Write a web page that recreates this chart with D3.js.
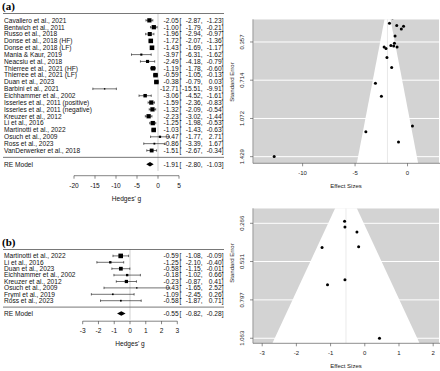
<!DOCTYPE html>
<html>
<head>
<meta charset="utf-8">
<script src="https://cdn.jsdelivr.net/npm/d3@7"></script>
<style>
  body { margin: 0; background: #fff; }
  svg { display: block; }
</style>
</head>
<body>
<script>
// ---- data: panel (a) ----
const studiesA = [
  "Cavallero et al., 2021", "Bentwich et al., 2011", "Russo et al., 2018",
  "Donse et al., 2018 (HF)", "Donse et al., 2018 (LF)", "Mania & Kaur, 2019",
  "Neacsiu et al., 2018", "Thierree et al., 2021 (HF)", "Thierree et al., 2021 (LF)",
  "Duan et al., 2023", "Barbini et al., 2021", "Eichhammer et al., 2002",
  "Isserles et al., 2011 (positive)", "Isserles et al., 2011 (negative)",
  "Kreuzer et al., 2012", "Li et al., 2016", "Martinotti et al., 2022",
  "Osuch et al., 2009", "Ross et al., 2023", "VanDerwerker et al., 2018"
];
const estA   = [-2.05, -1.00, -1.96, -1.72, -1.43, -3.97, -2.49, -1.19, -0.59, -0.38, -12.71, -3.06, -1.59, -1.32, -2.23, -1.25, -1.03, 0.47, -0.86, -1.51];
const lowerA = [-2.87, -1.79, -2.94, -2.07, -1.69, -6.31, -4.18, -1.78, -1.05, -0.79, -15.51, -4.52, -2.36, -2.09, -3.02, -1.98, -1.43, -1.77, -3.39, -2.67];
const upperA = [-1.23, -0.21, -0.97, -1.36, -1.17, -1.62, -0.79, -0.60, -0.13, 0.03, -9.91, -1.61, -0.83, -0.54, -1.44, -0.53, -0.63, 2.71, 1.67, -0.34];
const reA = { est: -1.91, lower: -2.80, upper: -1.03 };
const forestTicksA = [-20, -15, -10, -5, 0, 5];
const seTicksA = [0.357, 0.714, 1.072, 1.429];
const funnelTicksA = [-10, -5, 0];

// ---- data: panel (b) ----
const studiesB = [
  "Martinotti et al., 2022", "Li et al., 2016", "Duan et al., 2023",
  "Eichhammer et al., 2002", "Kreuzer et al., 2012", "Osuch et al., 2009",
  "Fryml et al., 2019", "Ross et al., 2023"
];
const estB   = [-0.59, -1.25, -0.58, -0.18, -0.23, 0.43, -1.09, -0.58];
const lowerB = [-1.08, -2.10, -1.15, -1.02, -0.87, -1.65, -2.45, -1.87];
const upperB = [-0.09, -0.40, -0.01, 0.66, 0.41, 2.52, 0.26, 0.71];
const reB = { est: -0.55, lower: -0.82, upper: -0.28 };
const forestTicksB = [-3, -2, -1, 0, 1, 2, 3];
const seTicksB = [0.266, 0.531, 0.797, 1.063];
const funnelTicksB = [-3, -2, -1, 0, 1, 2];

const FONT = "'Liberation Sans', Arial, sans-serif";
const fmt = v => v.toFixed(2);

const svg = d3.select("body").append("svg")
  .attr("width", 440)
  .attr("height", 371);

const defs = svg.append("defs");
defs.append("clipPath").attr("id", "clipForest")
  .append("rect").attr("x", 0).attr("y", 0).attr("width", 224).attr("height", 371);

/**
 * Forest plot (metafor style): labels, squares + CIs, annotation, RE diamond, axis.
 */
function drawForest(cfg) {
  const k = cfg.names.length;
  const x = d3.scaleLinear().domain(d3.extent(cfg.ticks)).range(cfg.xRange);
  // metafor rows: first study at row k, last at row 1, line at 0, RE model at -1
  const y = d3.scaleLinear().domain([k + 1, -1]).range([cfg.top, cfg.top + (k + 2) * cfg.step]);

  // square size from the RE weights
  const se = cfg.est.map((d, i) => (cfg.upper[i] - cfg.lower[i]) / (2 * 1.96));
  const w = se.map(s => 1 / (s * s + cfg.tau2));
  const wScale = d3.scaleLinear().domain(d3.extent(w)).range([1.4, 4.6]);

  const g = svg.append("g").attr("clip-path", "url(#clipForest)");

  // panel letter
  svg.append("text")
    .attr("x", 2).attr("y", cfg.letterY)
    .style("font-family", "'Liberation Serif', 'Times New Roman', serif")
    .style("font-weight", "bold").style("font-size", "11px")
    .text(cfg.letter);

  // top line and separator
  [k + 1, 0].forEach(r => {
    g.append("line")
      .attr("x1", 3).attr("x2", 226)
      .attr("y1", y(r)).attr("y2", y(r))
      .attr("stroke", "#555").attr("stroke-width", 0.8);
  });

  // reference line at 0
  g.append("line")
    .attr("x1", x(0)).attr("x2", x(0))
    .attr("y1", y(k + 1)).attr("y2", y(-2))
    .attr("stroke", "#666").attr("stroke-width", 0.6)
    .attr("stroke-dasharray", "1,1");

  const rows = cfg.names.map((n, i) => ({
    name: n, est: cfg.est[i], lo: cfg.lower[i], hi: cfg.upper[i],
    size: wScale(w[i]), row: k - i
  }));

  const txt = sel => sel.style("font-family", FONT).style("font-size", cfg.fs + "px").attr("fill", "#111").attr("dy", "0.35em");

  // study labels
  g.selectAll(".lab").data(rows).enter().append("text")
    .attr("x", 4).attr("y", d => y(d.row))
    .call(txt).text(d => d.name);

  // confidence intervals with end ticks
  g.selectAll(".ci").data(rows).enter().append("line")
    .attr("x1", d => x(d.lo)).attr("x2", d => x(d.hi))
    .attr("y1", d => y(d.row)).attr("y2", d => y(d.row))
    .attr("stroke", "#111").attr("stroke-width", 0.6);
  ["lo", "hi"].forEach(key => {
    g.selectAll(".cap" + key).data(rows).enter().append("line")
      .attr("x1", d => x(d[key])).attr("x2", d => x(d[key]))
      .attr("y1", d => y(d.row) - 1.2).attr("y2", d => y(d.row) + 1.2)
      .attr("stroke", "#111").attr("stroke-width", 0.6);
  });

  // squares
  g.selectAll(".sq").data(rows).enter().append("rect")
    .attr("x", d => x(d.est) - d.size / 2)
    .attr("y", d => y(d.row) - d.size / 2)
    .attr("width", d => d.size).attr("height", d => d.size)
    .attr("fill", "#000");

  // annotation columns: est [lo, hi]
  const all = rows.concat([{ name: "RE Model", est: cfg.re.est, lo: cfg.re.lower, hi: cfg.re.upper, row: -1 }]);
  g.selectAll(".aest").data(all).enter().append("text")
    .attr("x", cfg.ann[0]).attr("y", d => y(d.row)).attr("text-anchor", "end")
    .call(txt).text(d => fmt(d.est));
  g.selectAll(".abr").data(all).enter().append("text")
    .attr("x", cfg.ann[0] + 0.9).attr("y", d => y(d.row))
    .call(txt).text("[");
  g.selectAll(".alo").data(all).enter().append("text")
    .attr("x", cfg.ann[1]).attr("y", d => y(d.row)).attr("text-anchor", "end")
    .call(txt).text(d => fmt(d.lo) + ",");
  g.selectAll(".ahi").data(all).enter().append("text")
    .attr("x", cfg.ann[2]).attr("y", d => y(d.row)).attr("text-anchor", "end")
    .call(txt).text(d => fmt(d.hi) + "]");

  // RE model row
  g.append("text").attr("x", 4).attr("y", y(-1)).call(txt).text("RE Model");
  const yr = y(-1);
  g.append("polygon")
    .attr("points", [[x(cfg.re.lower), yr], [x(cfg.re.est), yr - 2.2], [x(cfg.re.upper), yr], [x(cfg.re.est), yr + 2.2]].join(" "))
    .attr("fill", "#000");

  // x axis
  const ay = y(-1) + cfg.axisGap;
  const ax = svg.append("g");
  ax.append("line")
    .attr("x1", x(cfg.ticks[0])).attr("x2", x(cfg.ticks[cfg.ticks.length - 1]))
    .attr("y1", ay).attr("y2", ay).attr("stroke", "#333").attr("stroke-width", 0.6);
  ax.selectAll(".t").data(cfg.ticks).enter().append("line")
    .attr("x1", d => x(d)).attr("x2", d => x(d))
    .attr("y1", ay).attr("y2", ay + 3).attr("stroke", "#333").attr("stroke-width", 0.6);
  ax.selectAll(".tl").data(cfg.ticks).enter().append("text")
    .attr("x", d => x(d)).attr("y", ay + 9.5).attr("text-anchor", "middle")
    .call(txt).text(d => d);
  ax.append("text")
    .attr("x", (cfg.xRange[0] + cfg.xRange[1]) / 2).attr("y", ay + 22.5).attr("text-anchor", "middle")
    .call(txt).text("Hedges' g");
}

/**
 * Funnel plot (metafor style): gray back, white funnel, white hlines.
 */
function drawFunnel(cfg) {
  const x = d3.scaleLinear().domain(cfg.xDomain).range([253.3, 439]);
  const y = d3.scaleLinear().domain(cfg.yDomain).range([cfg.top, cfg.bottom]);
  const id = "clipF" + cfg.id;
  defs.append("clipPath").attr("id", id)
    .append("rect").attr("x", 253.3).attr("y", cfg.top).attr("width", 439 - 253.3).attr("height", cfg.bottom - cfg.top);

  const g = svg.append("g").attr("clip-path", `url(#${id})`);
  g.append("rect")
    .attr("x", 253.3).attr("y", cfg.top).attr("width", 439 - 253.3).attr("height", cfg.bottom - cfg.top)
    .attr("fill", "#d3d3d3");

  // pseudo confidence region around the RE estimate
  const sMax = cfg.yDomain[1];
  g.append("polygon")
    .attr("points", [[x(cfg.re), y(0)], [x(cfg.re - 1.96 * sMax), y(sMax)], [x(cfg.re + 1.96 * sMax), y(sMax)]].join(" "))
    .attr("fill", "#fff");

  g.selectAll(".hl").data(cfg.seTicks).enter().append("line")
    .attr("x1", 253.3).attr("x2", 439)
    .attr("y1", d => y(d)).attr("y2", d => y(d))
    .attr("stroke", "#fff").attr("stroke-width", 1);

  g.append("line")
    .attr("x1", x(cfg.re)).attr("x2", x(cfg.re))
    .attr("y1", cfg.top).attr("y2", cfg.bottom)
    .attr("stroke", "#e3e3e3").attr("stroke-width", 0.8);

  const se = cfg.est.map((d, i) => (cfg.upper[i] - cfg.lower[i]) / (2 * 1.96));
  g.selectAll(".pt").data(cfg.est).enter().append("circle")
    .attr("cx", d => x(d)).attr("cy", (d, i) => y(se[i]))
    .attr("r", 1.5).attr("fill", "#000");

  const small = sel => sel.style("font-family", FONT).style("font-size", "6px").attr("fill", "#222");

  // axes
  svg.append("line")
    .attr("x1", 253).attr("x2", 253).attr("y1", cfg.top).attr("y2", cfg.bottom)
    .attr("stroke", "#444").attr("stroke-width", 0.6);
  svg.append("line")
    .attr("x1", 253).attr("x2", 440).attr("y1", cfg.bottom).attr("y2", cfg.bottom)
    .attr("stroke", "#444").attr("stroke-width", 0.6);

  svg.selectAll(null).data(cfg.seTicks).enter().append("line")
    .attr("x1", 250).attr("x2", 253)
    .attr("y1", d => y(d)).attr("y2", d => y(d))
    .attr("stroke", "#444").attr("stroke-width", 0.6);
  svg.selectAll(null).data(cfg.seTicks).enter().append("text")
    .attr("transform", d => `translate(244,${y(d)}) rotate(-90)`)
    .attr("text-anchor", "middle")
    .call(small).text(d => d.toFixed(3));
  svg.append("text")
    .attr("transform", `translate(233.5,${cfg.yLabel}) rotate(-90)`)
    .attr("text-anchor", "middle")
    .call(small).text("Standard Error");

  svg.selectAll(null).data(cfg.xTicks).enter().append("line")
    .attr("x1", d => x(d)).attr("x2", d => x(d))
    .attr("y1", cfg.bottom).attr("y2", cfg.bottom + 3)
    .attr("stroke", "#444").attr("stroke-width", 0.6);
  svg.selectAll(null).data(cfg.xTicks).enter().append("text")
    .attr("x", d => x(d)).attr("y", cfg.bottom + 11.5)
    .attr("text-anchor", "middle")
    .call(small).text(d => d);
  svg.append("text")
    .attr("x", 346).attr("y", cfg.bottom + 25)
    .attr("text-anchor", "middle")
    .call(small).text("Effect Sizes");
}

drawForest({
  letter: "(a)", letterY: 10,
  names: studiesA, est: estA, lower: lowerA, upper: upperA, re: reA,
  ticks: forestTicksA, xRange: [74, 179],
  top: 13.5, step: 6.85, tau2: 3.8, fs: 6.6,
  ann: [178.6, 202.6, 223.5], axisGap: 11.5
});

drawForest({
  letter: "(b)", letterY: 246,
  names: studiesB, est: estB, lower: lowerB, upper: upperB, re: reB,
  ticks: forestTicksB, xRange: [82.7, 177.3],
  top: 249.5, step: 6.4, tau2: 0, fs: 6.6,
  ann: [178.6, 202.6, 223.5], axisGap: 7.7
});

drawFunnel({
  id: "a", est: estA, lower: lowerA, upper: upperA, re: reA.est,
  xDomain: [-14.7, 3.0], yDomain: [0.145, 1.491], top: 19.3, bottom: 163.3,
  seTicks: seTicksA, xTicks: funnelTicksA, yLabel: 82
});

drawFunnel({
  id: "b", est: estB, lower: lowerB, upper: upperB, re: reB.est,
  xDomain: [-3.26, 2.17], yDomain: [0.162, 1.098], top: 208.3, bottom: 343.3,
  seTicks: seTicksB, xTicks: funnelTicksB, yLabel: 263
});
</script>
</body>
</html>
